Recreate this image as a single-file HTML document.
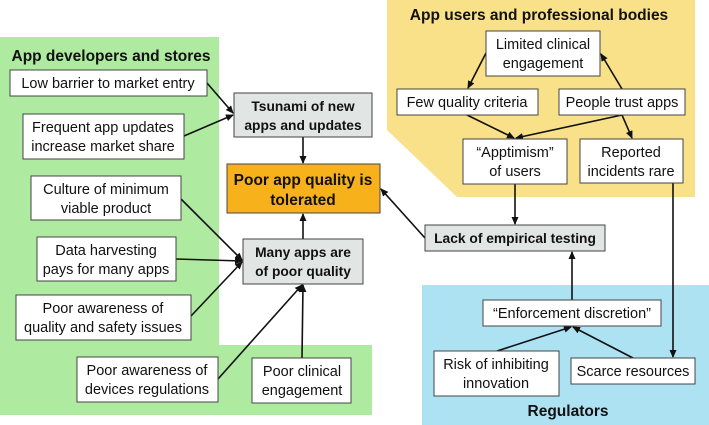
<!DOCTYPE html>
<html><head><meta charset="utf-8"><style>
html,body{margin:0;padding:0;background:#fff}
svg{display:block}
text{font-family:"Liberation Sans",sans-serif;font-size:14.5px;fill:#111}
.b{font-weight:bold;font-size:13.8px}
.t{font-weight:bold;font-size:15.5px}
</style></head><body>
<svg width="709" height="425" viewBox="0 0 709 425" xmlns="http://www.w3.org/2000/svg">
<defs><marker id="a" markerWidth="8" markerHeight="8" refX="7" refY="4" orient="auto" markerUnits="userSpaceOnUse"><path d="M0,0.5 L8,4 L0,7.5z" fill="#111"/></marker></defs>
<polygon points="0,37 219,37 219,345 372,345 372,415 0,415" fill="#aeeaa0"/>
<polygon points="387,0 695,0 695,197 457,197 387,130" fill="#f8e189"/>
<rect x="422" y="285" width="287" height="140" fill="#ade2f3"/>
<g stroke="#111" stroke-width="1.6" fill="none" marker-end="url(#a)">
<line x1="207" y1="83" x2="233" y2="113"/>
<line x1="184" y1="136" x2="233" y2="115"/>
<line x1="303" y1="137" x2="303" y2="163"/>
<line x1="303" y1="239" x2="303" y2="214"/>
<line x1="181" y1="199" x2="242" y2="260"/>
<line x1="176" y1="259" x2="242" y2="261"/>
<line x1="191" y1="316" x2="242" y2="262"/>
<line x1="218" y1="379" x2="302" y2="285"/>
<line x1="302" y1="358" x2="303" y2="285"/>
<line x1="425" y1="238" x2="381" y2="189"/>
<line x1="486" y1="53" x2="468" y2="88"/>
<line x1="622" y1="89" x2="601" y2="54"/>
<line x1="467" y1="115" x2="514" y2="138"/>
<line x1="622" y1="115" x2="516" y2="138"/>
<line x1="622" y1="115" x2="632" y2="138"/>
<line x1="515" y1="184" x2="515" y2="224"/>
<line x1="673" y1="183" x2="673" y2="357"/>
<line x1="572" y1="300" x2="572" y2="252"/>
<line x1="497" y1="351" x2="571" y2="327"/>
<line x1="633" y1="358" x2="573" y2="327"/>
</g>
<g stroke="#444" stroke-width="1" fill="#fff">
<rect x="10" y="70" width="197" height="26"/>
<rect x="23" y="114" width="161" height="45"/>
<rect x="31" y="176" width="150" height="44"/>
<rect x="37" y="237" width="139" height="44"/>
<rect x="16" y="295" width="175" height="45"/>
<rect x="77" y="357" width="141" height="45"/>
<rect x="252" y="358" width="99" height="45"/>
<rect x="234" y="93" width="138" height="44" fill="#e1e5e4"/>
<rect x="227" y="164" width="153" height="49" fill="#f7b21b"/>
<rect x="243" y="239" width="120" height="45" fill="#e1e5e4"/>
<rect x="486" y="31" width="114" height="45"/>
<rect x="397" y="89" width="141" height="26"/>
<rect x="559" y="89" width="126" height="26"/>
<rect x="463" y="139" width="104" height="45"/>
<rect x="580" y="139" width="103" height="44"/>
<rect x="425" y="225" width="180" height="26" fill="#e1e5e4"/>
<rect x="483" y="300" width="178" height="26"/>
<rect x="434" y="351" width="125" height="45"/>
<rect x="571" y="358" width="124" height="26"/>
</g>
<g text-anchor="middle">
<text x="111" y="61" class="t">App developers and stores</text>
<text x="539" y="20" class="t">App users and professional bodies</text>
<text x="568" y="416" class="t">Regulators</text>
<text x="108" y="88">Low barrier to market entry</text>
<text x="103" y="132">Frequent app updates</text><text x="103" y="151">increase market share</text>
<text x="106" y="194">Culture of minimum</text><text x="106" y="213">viable product</text>
<text x="106" y="255">Data harvesting</text><text x="106" y="274">pays for many apps</text>
<text x="103" y="313">Poor awareness of</text><text x="103" y="332">quality and safety issues</text>
<text x="147" y="375">Poor awareness of</text><text x="147" y="394">devices regulations</text>
<text x="302" y="376">Poor clinical</text><text x="302" y="395">engagement</text>
<text x="303" y="111" class="b">Tsunami of new</text><text x="303" y="130" class="b">apps and updates</text>
<text x="303" y="185" class="b" style="font-size:15.5px">Poor app quality is</text><text x="303" y="205" class="b" style="font-size:15.5px">tolerated</text>
<text x="303" y="257" class="b">Many apps are</text><text x="303" y="276" class="b">of poor quality</text>
<text x="543" y="49">Limited clinical</text><text x="543" y="68">engagement</text>
<text x="467" y="107">Few quality criteria</text>
<text x="622" y="107">People trust apps</text>
<text x="515" y="157">“Apptimism”</text><text x="515" y="176">of users</text>
<text x="631" y="157">Reported</text><text x="631" y="176">incidents rare</text>
<text x="515" y="243" class="b">Lack of empirical testing</text>
<text x="572" y="318">“Enforcement discretion”</text>
<text x="496" y="369">Risk of inhibiting</text><text x="496" y="388">innovation</text>
<text x="633" y="376">Scarce resources</text>
</g>
</svg>
</body></html>
